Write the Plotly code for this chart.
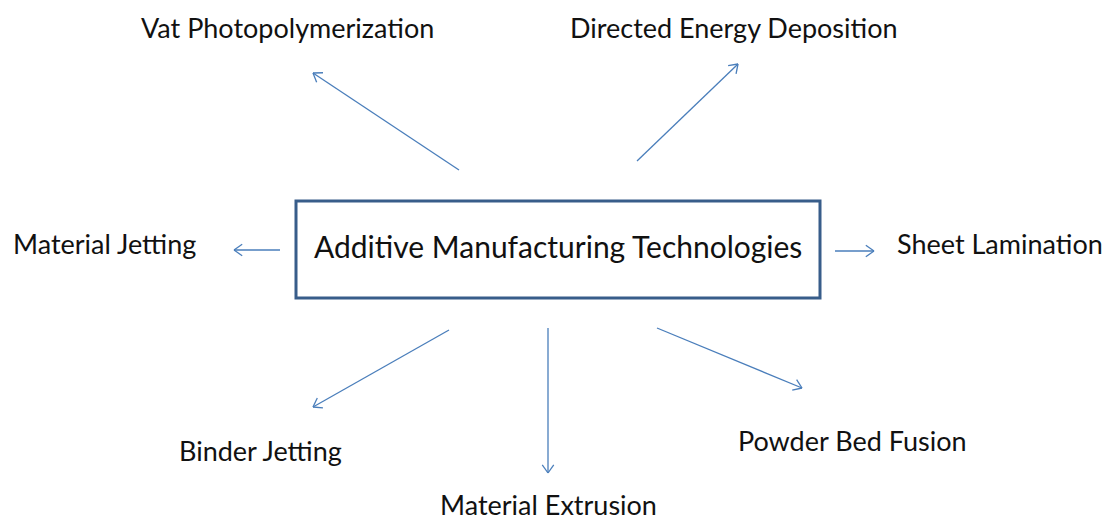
import math
import plotly.graph_objects as go

# Diagram content
center_label = "Additive Manufacturing Technologies"
labels = ["Vat Photopolymerization", "Directed Energy Deposition", "Material Jetting",
          "Sheet Lamination", "Binder Jetting", "Material Extrusion", "Powder Bed Fusion"]
label_x = [287, 734, 104, 1000, 260, 548, 852]
label_y = [27, 27, 243, 243, 450, 504, 440]
arrow_tail_x = [459, 637, 280, 835, 449, 548, 657]
arrow_tail_y = [170, 161, 250, 251, 330, 328, 328]
arrow_head_x = [313, 738, 234, 874, 313, 548, 802]
arrow_head_y = [73, 64, 250, 251, 407, 473, 388]
box_x = [296, 820]
box_y = [201, 298]

W, H = 1108, 521
arrow_color = "#4A7EBB"
box_color = "#385D8A"

fig = go.Figure()

# arrow shafts and open arrowheads
xs, ys = [], []
for tx, ty, hx, hy in zip(arrow_tail_x, arrow_tail_y, arrow_head_x, arrow_head_y):
    xs += [tx, hx, None]
    ys += [ty, hy, None]
    ang = math.atan2(hy - ty, hx - tx)
    L = 10
    spread = math.radians(35)
    for s in (-1, 1):
        a = ang + math.pi + s * spread
        xs += [hx, hx + L * math.cos(a), None]
        ys += [hy, hy + L * math.sin(a), None]
fig.add_trace(go.Scatter(x=xs, y=ys, mode="lines",
                         line=dict(color=arrow_color, width=1.3),
                         hoverinfo="skip", showlegend=False))

# center box
fig.add_shape(type="rect", x0=box_x[0], x1=box_x[1], y0=box_y[0], y1=box_y[1],
              line=dict(color=box_color, width=3), fillcolor="white", layer="above")

font_family = "Lato, Open Sans, sans-serif"
fig.add_annotation(x=(box_x[0] + box_x[1]) / 2, y=246, text=center_label, showarrow=False,
                   font=dict(family=font_family, size=30, color="#111111"),
                   xanchor="center", yanchor="middle")

for t, x, y in zip(labels, label_x, label_y):
    fig.add_annotation(x=x, y=y, text=t, showarrow=False, borderpad=0,
                       font=dict(family=font_family, size=27, color="#111111"),
                       xanchor="center", yanchor="middle")

fig.update_xaxes(range=[0, W], visible=False, fixedrange=True)
fig.update_yaxes(range=[H, 0], visible=False, fixedrange=True)
fig.update_layout(width=W, height=H, margin=dict(l=0, r=0, t=0, b=0),
                  paper_bgcolor="white", plot_bgcolor="white")

fig.write_html("out.html", config={"displayModeBar": False})
with open("out.html", encoding="utf-8") as f:
    html = f.read()
html = html.replace("<head>", "<head><style>html,body{margin:0;padding:0;overflow:hidden;}</style>", 1)
with open("out.html", "w", encoding="utf-8") as f:
    f.write(html)
